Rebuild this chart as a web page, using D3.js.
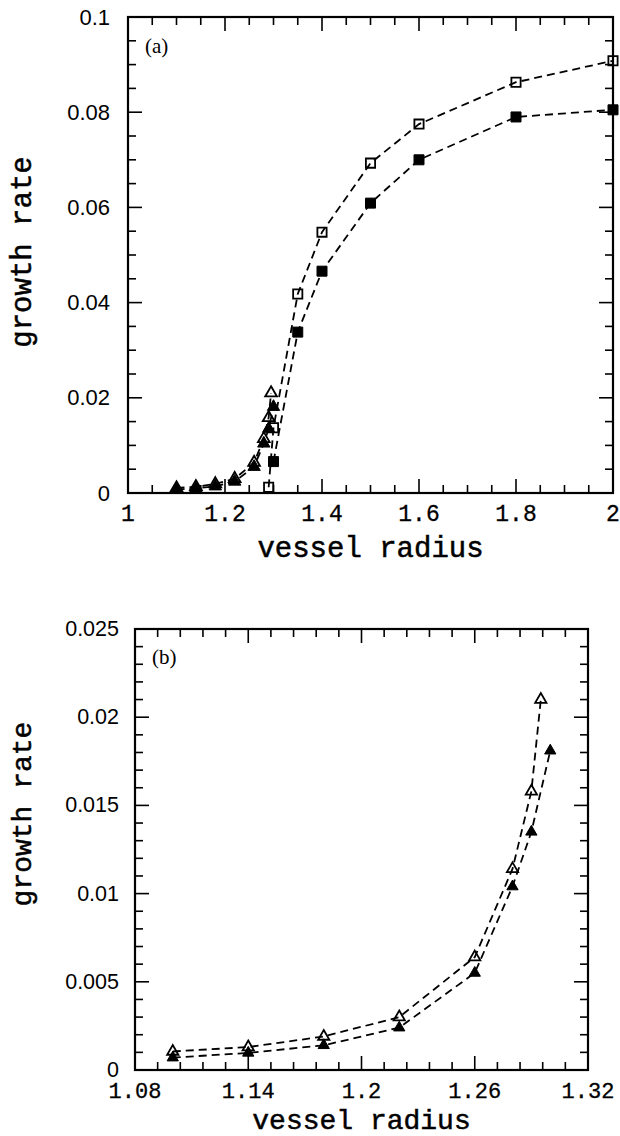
<!DOCTYPE html>
<html>
<head>
<meta charset="utf-8">
<script src="https://cdn.jsdelivr.net/npm/d3@7"></script>
<style>
  html, body { margin: 0; padding: 0; background: #fff; }
  svg { display: block; }
</style>
</head>
<body>
<script>
// ---------- data ----------
// panel (a)
const aOpenSqX   = [1.29, 1.30, 1.35, 1.40, 1.50, 1.60, 1.80, 2.00];
const aOpenSqY   = [0.0012, 0.0137, 0.0418, 0.0548, 0.0693, 0.0775, 0.0863, 0.0908];
const aFillSqX   = [1.30, 1.35, 1.40, 1.50, 1.60, 1.80, 2.00];
const aFillSqY   = [0.0066, 0.0338, 0.0466, 0.0609, 0.0700, 0.0790, 0.0805];
// triangles (shared by both panels)
const openTriX   = [1.10, 1.14, 1.18, 1.22, 1.26, 1.28, 1.29, 1.295];
const openTriY   = [0.00105, 0.0013, 0.0019, 0.0030, 0.0064, 0.0114, 0.0158, 0.0210];
const fillTriX   = [1.10, 1.14, 1.18, 1.22, 1.26, 1.28, 1.29, 1.30];
const fillTriY   = [0.0007, 0.00097, 0.0014, 0.0024, 0.0055, 0.0104, 0.0135, 0.0181];

// tick labels
const aXTickLabels = ["1", "1.2", "1.4", "1.6", "1.8", "2"];
const aYTickLabels = ["0", "0.02", "0.04", "0.06", "0.08", "0.1"];
const bXTickLabels = ["1.08", "1.14", "1.2", "1.26", "1.32"];
const bYTickLabels = ["0", "0.005", "0.01", "0.015", "0.02", "0.025"];

const xTitle = "vessel radius";
const yTitle = "growth rate";

// ---------- drawing ----------
const W = 620, H = 1136;
const svg = d3.select("body").append("svg").attr("width", W).attr("height", H);
svg.append("rect").attr("width", W).attr("height", H).attr("fill", "#fff");

const monoFont = "'Liberation Mono', 'DejaVu Sans Mono', monospace";
const sansFont = "'Liberation Sans', Arial, sans-serif";
const serifFont = "'Liberation Serif', 'Times New Roman', serif";

function pairs(xs, ys) { return xs.map((x, i) => [x, ys[i]]); }

function panel(cfg) {
  const x = d3.scaleLinear().domain(cfg.xDomain).range([cfg.left, cfg.right]);
  const y = d3.scaleLinear().domain(cfg.yDomain).range([cfg.bottom, cfg.top]);
  const g = svg.append("g");

  // minor/major ticks on all four sides
  const xMinor = d3.range(0, Math.round((cfg.xDomain[1] - cfg.xDomain[0]) / cfg.xMinorStep) + 1)
    .map(i => cfg.xDomain[0] + i * cfg.xMinorStep);
  const yMinor = d3.range(0, Math.round((cfg.yDomain[1] - cfg.yDomain[0]) / cfg.yMinorStep) + 1)
    .map(i => cfg.yDomain[0] + i * cfg.yMinorStep);
  const tk = g.append("g").attr("stroke", "#000").attr("stroke-width", 1.6);
  xMinor.forEach((v, i) => {
    const major = i % cfg.xMajorEvery === 0;
    const L = major ? cfg.majorLen : cfg.minorLen;
    const px = x(v);
    tk.append("line").attr("x1", px).attr("x2", px).attr("y1", cfg.bottom).attr("y2", cfg.bottom - L);
    tk.append("line").attr("x1", px).attr("x2", px).attr("y1", cfg.top).attr("y2", cfg.top + L);
  });
  yMinor.forEach((v, i) => {
    const major = i % cfg.yMajorEvery === 0;
    const L = major ? cfg.majorLen : cfg.minorLen;
    const py = y(v);
    tk.append("line").attr("y1", py).attr("y2", py).attr("x1", cfg.left).attr("x2", cfg.left + L);
    tk.append("line").attr("y1", py).attr("y2", py).attr("x1", cfg.right).attr("x2", cfg.right - L);
  });

  // frame
  g.append("rect")
    .attr("x", cfg.left).attr("y", cfg.top)
    .attr("width", cfg.right - cfg.left).attr("height", cfg.bottom - cfg.top)
    .attr("fill", "none").attr("stroke", "#000").attr("stroke-width", 2.2);

  // tick labels
  cfg.xLabels.forEach(t => {
    g.append("text").attr("x", x(+t)).attr("y", cfg.xLabelY)
      .attr("text-anchor", "middle").attr("font-family", monoFont)
      .attr("font-size", cfg.xLabelSize).attr("fill", "#000")
      .attr("stroke", "#000").attr("stroke-width", 0.3).text(t);
  });
  cfg.yLabels.forEach(t => {
    g.append("text").attr("x", cfg.left - cfg.yLabelGap).attr("y", y(+t))
      .attr("text-anchor", "end").attr("dominant-baseline", "central")
      .attr("font-family", sansFont).attr("font-size", cfg.yLabelSize)
      .attr("fill", "#000").text(t);
  });

  // axis titles
  g.append("text").attr("x", (cfg.left + cfg.right) / 2).attr("y", cfg.xTitleY)
    .attr("text-anchor", "middle").attr("font-family", monoFont)
    .attr("font-size", cfg.titleSize).attr("fill", "#000")
    .attr("stroke", "#000").attr("stroke-width", 0.5).text(xTitle);
  g.append("text")
    .attr("transform", `translate(${cfg.yTitleX},${cfg.yTitleCY}) rotate(-90)`)
    .attr("text-anchor", "middle").attr("font-family", monoFont)
    .attr("font-size", cfg.titleSize).attr("fill", "#000")
    .attr("stroke", "#000").attr("stroke-width", 0.5).text(yTitle);

  // panel label
  g.append("text").attr("x", cfg.left + 17).attr("y", cfg.tagY)
    .attr("font-family", serifFont).attr("font-size", 21).attr("fill", "#000").text(cfg.tag);

  // series
  const line = d3.line().x(d => x(d[0])).y(d => y(d[1]));
  cfg.series.forEach(s => {
    const pts = pairs(s.xs, s.ys);
    g.append("path").datum(pts).attr("d", line)
      .attr("fill", "none").attr("stroke", "#000").attr("stroke-width", 1.8)
      .attr("stroke-dasharray", "8,5");
  });
  cfg.series.forEach(s => {
    const pts = pairs(s.xs, s.ys);
    const sym = d3.symbol().type(s.shape).size(s.size);
    g.selectAll(null).data(pts).enter().append("path")
      .attr("d", sym)
      .attr("transform", d => `translate(${x(d[0])},${y(d[1])})`)
      .attr("fill", s.filled ? "#000" : "none")
      .attr("stroke", "#000").attr("stroke-width", s.filled ? 1 : 1.8);
  });
}

panel({
  tag: "(a)", tagY: 53,
  xDomain: [1, 2], yDomain: [0, 0.1],
  left: 128, right: 613, top: 17, bottom: 493,
  xMinorStep: 0.05, xMajorEvery: 4, yMinorStep: 0.005, yMajorEvery: 4,
  majorLen: 14, minorLen: 8,
  xLabels: aXTickLabels, yLabels: aYTickLabels,
  xLabelY: 521, xLabelSize: 23, yLabelGap: 18, yLabelSize: 22,
  xTitleY: 557, yTitleX: 31, yTitleCY: 252, titleSize: 29,
  series: [
    { xs: aOpenSqX, ys: aOpenSqY, shape: d3.symbolSquare, size: 85, filled: false },
    { xs: aFillSqX, ys: aFillSqY, shape: d3.symbolSquare, size: 100, filled: true },
    { xs: openTriX, ys: openTriY, shape: d3.symbolTriangle, size: 60, filled: false },
    { xs: fillTriX, ys: fillTriY, shape: d3.symbolTriangle, size: 66, filled: true }
  ]
});

panel({
  tag: "(b)", tagY: 664,
  xDomain: [1.08, 1.32], yDomain: [0, 0.025],
  left: 135, right: 588, top: 629, bottom: 1070,
  xMinorStep: 0.012, xMajorEvery: 5, yMinorStep: 0.001, yMajorEvery: 5,
  majorLen: 14, minorLen: 8,
  xLabels: bXTickLabels, yLabels: bYTickLabels,
  xLabelY: 1098, xLabelSize: 22, yLabelGap: 16, yLabelSize: 21.5,
  xTitleY: 1129, yTitleX: 31, yTitleCY: 814, titleSize: 28,
  series: [
    { xs: openTriX, ys: openTriY, shape: d3.symbolTriangle, size: 55, filled: false },
    { xs: fillTriX, ys: fillTriY, shape: d3.symbolTriangle, size: 55, filled: true }
  ]
});
</script>
</body>
</html>
